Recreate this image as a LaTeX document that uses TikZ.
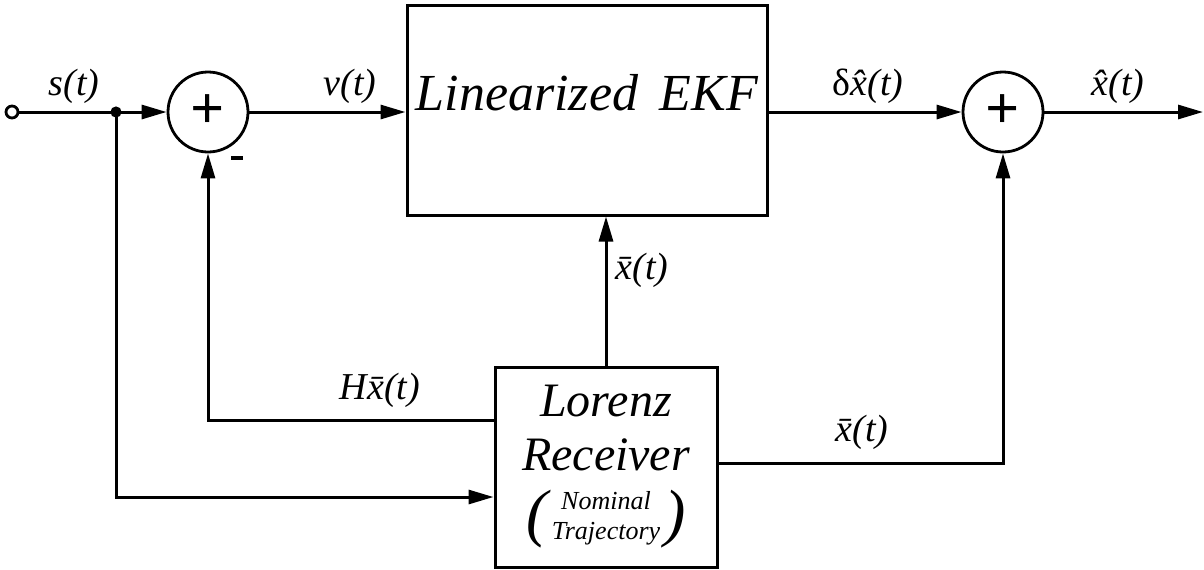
\documentclass[tikz,border=0pt]{standalone}
\usepackage{fontspec}
\setmainfont{Liberation Serif}
\usetikzlibrary{arrows.meta}
\tikzset{
  ln/.style={line width=1.5pt},
  arr/.style={ln,-{Triangle[length=12.5pt,width=7pt]}},
  sumc/.style={circle,draw,line width=1.4pt,minimum size=40pt,inner sep=0pt,font=\fontsize{30}{30}\selectfont\bfseries},
  blk/.style={rectangle,draw,line width=1.5pt,inner sep=0pt},
  lbl/.style={font=\fontsize{19}{21}\selectfont\itshape,inner sep=1pt},
}
\newcommand{\bigparen}[1]{\raisebox{-5pt}{\fontsize{32}{32}\selectfont #1}}
\begin{document}
\begin{tikzpicture}[x=0.5pt,y=-0.5pt]
\useasboundingbox (0,0) rectangle (1204,569);
% nodes
\node[circle,draw,line width=1.4pt,minimum size=6pt,inner sep=0pt,fill=white] (in) at (12,112) {};
\coordinate (j) at (116,112);
\node[sumc] (s1) at (208,112) {\raisebox{-1pt}{+}};
\node[sumc] (s2) at (1003,112) {\raisebox{-1pt}{+}};
\node[blk,minimum width=180pt,minimum height=105pt,font=\fontsize{26}{30}\selectfont\itshape] (ekf) at (587,110) {\raisebox{18pt}{Linearized\, EKF}};
\node[blk,minimum width=111pt,minimum height=100pt,align=center,font=\fontsize{24}{28}\selectfont\itshape] (lor) at (606,467)
  {Lorenz\\[-1pt]
   Receiver\\[-1pt]
   \bigparen{(}\kern2pt{\fontsize{13}{15}\selectfont\itshape\begin{tabular}{@{}c@{}}Nominal\\Trajectory\end{tabular}}\kern2pt\bigparen{)}};
\coordinate (out) at (1203,112);
% connectors
\draw[ln] (in) -- (j);
\draw[arr] (j) -- (s1.west);
\draw[arr] (s1.east) -- (s1.east -| ekf.west);
\draw[arr] (ekf.east |- s1) -- (s2.west);
\draw[arr] (s2.east) -- (out);
\draw[arr] (lor.north) -- (lor.north |- ekf.south);
\draw[arr] (lor.east |- 0,463) -| (s2.south);
\draw[arr] (lor.west |- 0,420) -| (s1.south);
\draw[arr] (j) |- (lor.west |- 0,497);
\fill (j) circle (2.8pt);
% labels
\node[lbl] (ls) at (74,86) {s(t)};
\node[lbl] (lv) at (350,86) {v(t)};
\node[lbl] (ld) at (868,86) {{\upshape δ}\^{x}(t)};
\node[lbl] (lo) at (1118,86) {\^{x}(t)};
\node[lbl] (lx1) at (642,270) {\={x}(t)};
\node[lbl] (lh) at (380,390) {H\={x}(t)};
\node[lbl] (lx2) at (862,432) {\={x}(t)};
\draw[line width=1.6pt] (231,158) -- (243,158);
\end{tikzpicture}
\end{document}
